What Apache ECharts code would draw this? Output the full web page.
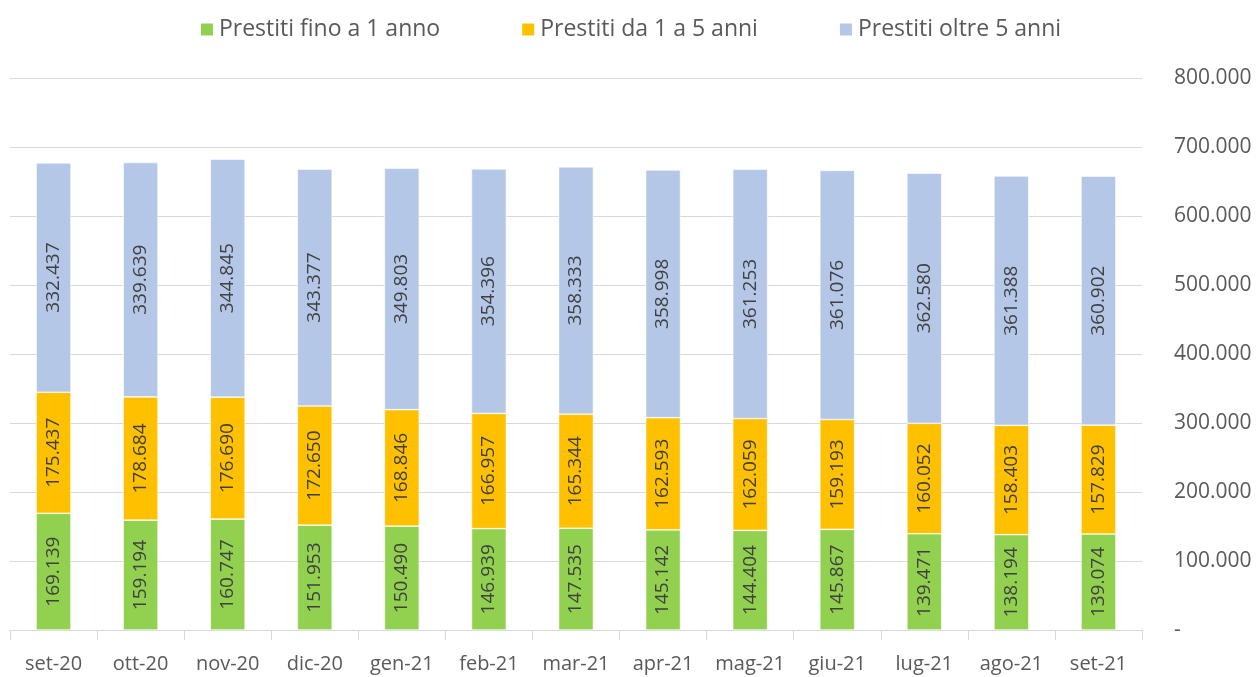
<!DOCTYPE html>
<html><head><meta charset="utf-8">
<script src="https://cdn.jsdelivr.net/npm/echarts@6/dist/echarts.min.js"></script>
<style>html,body{margin:0;padding:0;background:#fff}#c{width:1260px;height:677px}</style>
</head><body><div id="c"></div>
<script>
const categories = ["set-20","ott-20","nov-20","dic-20","gen-21","feb-21","mar-21","apr-21","mag-21","giu-21","lug-21","ago-21","set-21"];
const seriesNames = ["Prestiti fino a 1 anno","Prestiti da 1 a 5 anni","Prestiti oltre 5 anni"];
const fino1 = [169139,159194,160747,151953,150490,146939,147535,145142,144404,145867,139471,138194,139074];
const da1a5 = [175437,178684,176690,172650,168846,166957,165344,162593,162059,159193,160052,158403,157829];
const oltre5 = [332437,339639,344845,343377,349803,354396,358333,358998,361253,361076,362580,361388,360902];
const colors = ["#92d050","#ffc000","#b4c7e7"];

function fmt(v){ if(v===0) return "-"; return String(Math.round(v)).replace(/\B(?=(\d{3})+(?!\d))/g,"."); }
const font = "'Open Sans', 'Noto Sans', sans-serif";
const chart = echarts.init(document.getElementById('c'));
const data = [fino1, da1a5, oltre5];
chart.setOption({
  animation:false,
  textStyle:{fontFamily:font},
  legend:{top:13,left:'center',itemWidth:14,itemHeight:14,itemGap:80,icon:'rect',
    textStyle:{fontSize:23,color:'#595959',fontFamily:font}},
  grid:{left:10,right:118,top:78,bottom:47},
  xAxis:{type:'category',data:categories,
    axisLine:{lineStyle:{color:'#d9d9d9'}},
    axisTick:{show:true,length:10,lineStyle:{color:'#d9d9d9'}},
    axisLabel:{interval:0,fontSize:20,color:'#595959',margin:24,fontFamily:font}},
  yAxis:{type:'value',position:'right',min:0,max:800000,interval:100000,
    axisLine:{show:false},axisTick:{show:false},
    splitLine:{lineStyle:{color:'#d9d9d9',width:1}},
    axisLabel:{fontSize:21,color:'#595959',margin:32,align:'left',fontFamily:font,formatter:fmt}},
  series: seriesNames.map((n,i)=>({
    name:n,type:'bar',stack:'tot',barWidth:'40%',
    itemStyle:{color:colors[i],borderColor:'#ffffff',borderWidth:0.6},
    label:{show:true,position:'inside',rotate:90,fontSize:19,color:'#404040',fontFamily:font,
      formatter:p=>fmt(p.value)},
    data:data[i]
  }))
});
</script></body></html>
